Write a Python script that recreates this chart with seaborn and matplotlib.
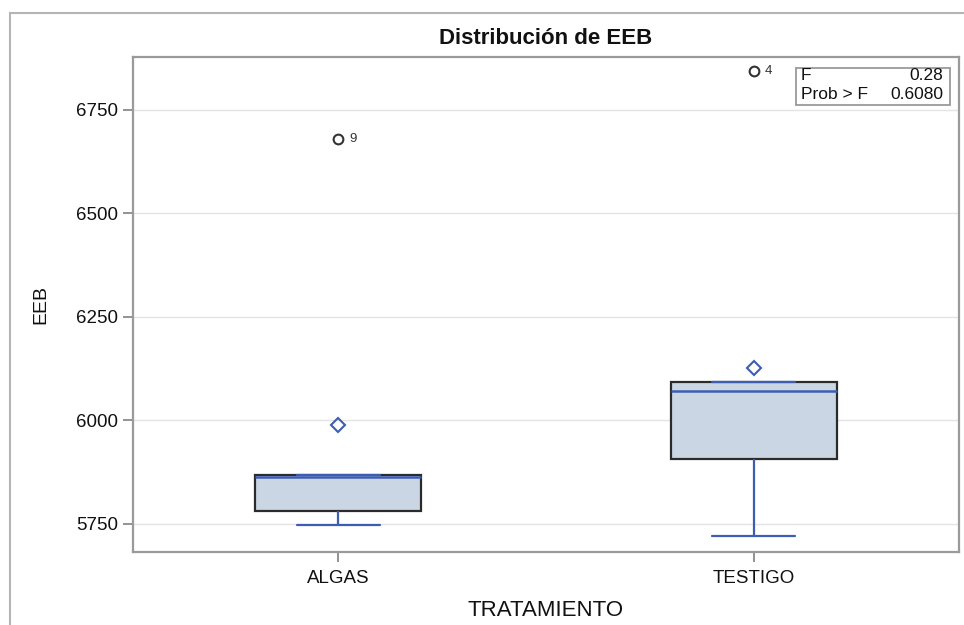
import matplotlib
matplotlib.use('Agg')
import matplotlib.pyplot as plt
from matplotlib.patches import Rectangle
import seaborn as sns
import numpy as np
import pandas as pd

tratamientos = ['ALGAS', 'TESTIGO']
obs_testigo = [1, 2, 3, 4, 5]
eeb_testigo = [5907, 6071, 5721, 6844, 6093]
obs_algas = [6, 7, 8, 9, 10]
eeb_algas = [5781, 5868, 5748, 6680, 5863]
y_ticks = [5750, 6000, 6250, 6500, 6750]
anova_labels = ['F', 'Prob > F']
anova_values = ['0.28', '0.6080']

df = pd.DataFrame({
    'Obs': obs_testigo + obs_algas,
    'TRATAMIENTO': ['TESTIGO'] * len(eeb_testigo) + ['ALGAS'] * len(eeb_algas),
    'EEB': eeb_testigo + eeb_algas,
})

sns.set_style('white')
plt.rcParams['font.family'] = ['Liberation Sans', 'DejaVu Sans']

blue = '#3D5DB3'
edge = '#2b2b2b'
fill = '#CBD6E5'

fig = plt.figure(figsize=(9.64, 6.25), dpi=100)
ax = fig.add_axes([0.138, 0.1168, 0.8568, 0.792])

sns.boxplot(data=df, x='TRATAMIENTO', y='EEB', order=tratamientos, ax=ax,
            width=0.4, color=fill, saturation=1, whis=1.5,
            showmeans=True,
            boxprops=dict(facecolor=fill, edgecolor=edge, linewidth=1.6),
            whiskerprops=dict(color=blue, linewidth=1.6),
            capprops=dict(color=blue, linewidth=1.6),
            medianprops=dict(color=blue, linewidth=1.8),
            meanprops=dict(marker='D', markerfacecolor='none', markeredgecolor=blue,
                           markeredgewidth=1.5, markersize=7.5),
            flierprops=dict(marker='o', markerfacecolor='none', markeredgecolor='#333333',
                            markeredgewidth=1.5, markersize=7))

# label the outliers with their observation number
for i, t in enumerate(tratamientos):
    sub = df[df['TRATAMIENTO'] == t]
    q1, q3 = np.percentile(sub['EEB'], [25, 75])
    iqr = q3 - q1
    out = sub[(sub['EEB'] > q3 + 1.5 * iqr) | (sub['EEB'] < q1 - 1.5 * iqr)]
    for _, r in out.iterrows():
        ax.annotate(str(r['Obs']), xy=(i, r['EEB']), xytext=(8, 0),
                    textcoords='offset points', ha='left', va='center',
                    fontsize=9.5, color='#333333')

ax.set_xlim(-0.495, 1.495)
ax.set_ylim(5682, 6878)
ax.set_yticks(y_ticks)
ax.yaxis.grid(True, color='#e4e4e4', linewidth=1)
ax.set_axisbelow(True)

for s in ax.spines.values():
    s.set_color('#9a9a9a')
    s.set_linewidth(1.6)
ax.tick_params(axis='both', which='major', length=7, width=1.3, color='#8a8a8a',
               labelsize=13.5, labelcolor='#111111', pad=4, left=True, bottom=True)
ax.tick_params(axis='x', pad=6)

ax.set_xlabel('TRATAMIENTO', fontsize=16, color='#111111', labelpad=9)
ax.set_ylabel('EEB', fontsize=14, color='#111111', labelpad=19)
ax.set_title('Distribución de EEB', fontsize=16, fontweight='bold', color='#111111', pad=9)

# inset with the ANOVA statistics
bx0, by0, bw, bh = 0.8027, 0.903, 0.186, 0.075
ax.add_patch(Rectangle((bx0, by0), bw, bh, transform=ax.transAxes, fill=True,
                       facecolor='white', edgecolor='#9a9a9a', linewidth=1.3, zorder=5))
for k, (lab, val) in enumerate(zip(anova_labels, anova_values)):
    yy = by0 + bh * (0.80 - 0.51 * k)
    ax.text(bx0 + 0.006, yy, lab, transform=ax.transAxes, ha='left', va='center',
            fontsize=12.5, color='#111111', zorder=6)
    ax.text(bx0 + bw - 0.008, yy, val, transform=ax.transAxes, ha='right', va='center',
            fontsize=12.5, color='#111111', zorder=6)

# outer frame of the exported graph
fig.add_artist(Rectangle((10 / 964, -0.1), 1.2, 1.1 - 13 / 625, transform=fig.transFigure,
                         fill=False, edgecolor='#b5b5b5', linewidth=1.5))

fig.savefig('out.png', dpi=100)
